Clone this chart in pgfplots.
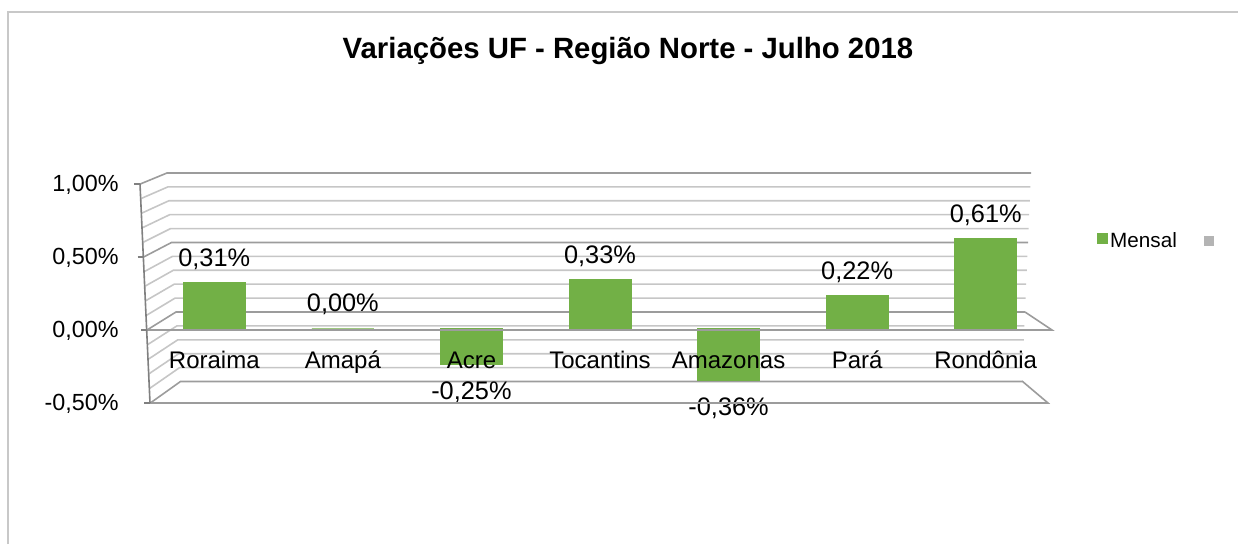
\documentclass[border=0pt]{standalone}
\usepackage{pgfplots}
\pgfplotsset{compat=1.18}
\usepackage{fontspec}
\setmainfont{Liberation Sans}
\definecolor{barg}{HTML}{72B046}
\definecolor{bardark}{HTML}{5A8C38}
\definecolor{legg}{HTML}{B4B4B4}
\definecolor{gmin}{HTML}{C6C6C6}
\definecolor{gmaj}{HTML}{9C9C9C}
\definecolor{framec}{HTML}{C8C8C8}
\begin{document}
\begin{tikzpicture}[x=0.75pt,y=0.75pt]
\path[use as bounding box] (0,0) rectangle (1238,544);
\draw[framec, line width=1.5pt] (8,0) -- (8,532) -- (1238,532);
\node[font=\bfseries\fontsize{22}{26}\selectfont, anchor=base] at (628,485) {Variações UF - Região Norte - Julho 2018};
% back wall and left wall
\foreach \k in {0,...,15}{
  \pgfmathsetmacro{\v}{-0.5+0.1*\k}
  \pgfmathsetmacro{\yf}{544-(330-146*\v)}
  \pgfmathsetmacro{\yb}{544-(312-139*\v)}
  \pgfmathsetmacro{\xf}{147-6.7*\v}
  \pgfmathsetmacro{\xb}{176-9*\v}
  \pgfmathsetmacro{\xbr}{1025+6*\v}
  \pgfmathtruncatemacro{\m}{mod(\k,5)}
  \ifnum\m=0 \def\gc{gmaj}\else\def\gc{gmin}\fi
  \draw[\gc, line width=1.2pt] (\xf,\yf) -- (\xb,\yb) -- (\xbr,\yb);
}
\begin{axis}[
  at={(112.5pt,105pt)}, anchor=south west, scale only axis,
  width=675pt, height=164.25pt,
  xmin=-0.5, xmax=6.5, ymin=-0.5, ymax=1.0,
  axis on top,
  axis line style={draw=none}, tick style={draw=none},
  xtick={0,1,2,3,4,5,6},
  xticklabels={Roraima,Amapá,Acre,Tocantins,Amazonas,Pará,Rondônia},
  ytick={-0.5,0,0.5,1},
  yticklabel={\pgfmathprintnumber[fixed,fixed zerofill,precision=2,use comma]{\tick}\%},
  /pgf/number format/assume math mode=true,
  xticklabel style={font=\fontsize{18}{22}\selectfont, anchor=base, yshift=31pt},
  yticklabel style={font=\fontsize{17.5}{21}\selectfont, xshift=-20pt},
  ybar, bar width=46.5pt,
  visualization depends on={y \as \rawy},
  nodes near coords={\pgfmathprintnumber[fixed,fixed zerofill,precision=2,use comma]{\pgfplotspointmeta}\%},
  nodes near coords style={font=\fontsize{19}{23}\selectfont, yshift={ifthenelse(\rawy<0,-9,6)}},
  legend style={at={(1.047,0.744)}, anchor=west, draw=none, fill=none,
    font=\fontsize{15.5}{18}\selectfont, legend columns=2,
    /tikz/every even column/.append style={column sep=18pt}},
  legend image code/.code={\fill[#1] (0pt,-3.75pt) rectangle (7.5pt,3.75pt);},
]
\addplot[fill=barg, draw=barg, line width=0.75pt, yshift=2.25pt] coordinates {(0,0.31) (1,0.0) (2,-0.25) (3,0.33) (4,-0.36) (5,0.22) (6,0.61)};
\addlegendentry{Mensal}
\addlegendimage{fill=legg, draw=none}
\addlegendentry{\hphantom{M}}
\end{axis}
% floor edges and axis line
\draw[gmaj, line width=1.2pt] (147,214) -- (1052,214) -- (1025,232);
\draw[gmaj, line width=1.2pt] (150,141) -- (1048,141) -- (1022,163);
\draw[gray, line width=1.2pt] (140,360) -- (150,141);
\foreach \v in {-0.5,0,0.5,1}{
  \pgfmathsetmacro{\yf}{544-(330-146*\v)}
  \pgfmathsetmacro{\xf}{147-6.7*\v}
  \draw[gray, line width=1.2pt] (\xf-6,\yf) -- (\xf,\yf);
}
\end{tikzpicture}
\end{document}
